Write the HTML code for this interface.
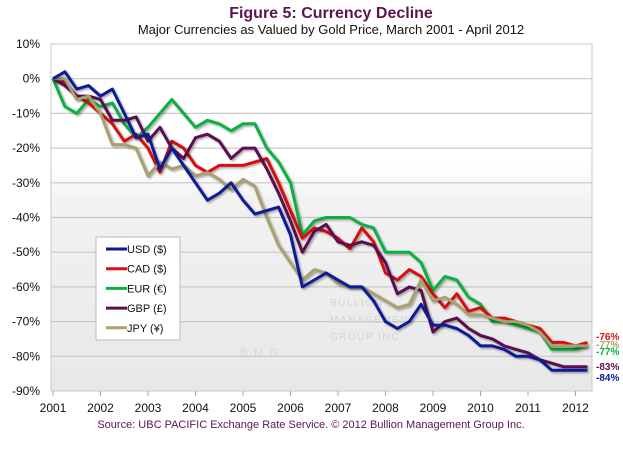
<!DOCTYPE html>
<html><head><meta charset="utf-8"><style>
body{margin:0;background:#fff;}
svg{display:block;font-family:"Liberation Sans",sans-serif;}
</style></head><body>
<svg id="c" width="623" height="468" viewBox="0 0 623 468">
<defs>
<linearGradient id="bg" x1="0" y1="0" x2="0" y2="1">
<stop offset="0" stop-color="#ffffff"/><stop offset="0.35" stop-color="#ffffff"/><stop offset="0.45" stop-color="#f2f2f2"/><stop offset="1" stop-color="#e8e8e8"/>
</linearGradient>
<filter id="sh" x="-5%" y="-5%" width="110%" height="110%"><feDropShadow dx="1.5" dy="1.5" stdDeviation="1" flood-color="#000" flood-opacity="0.35"/></filter>
</defs>
<text x="331" y="18" text-anchor="middle" font-size="16" font-weight="bold" fill="#5b1550">Figure 5:  Currency Decline</text>
<text x="331" y="34" text-anchor="middle" font-size="13" fill="#111">Major Currencies as Valued by Gold Price, March 2001 - April 2012</text>
<rect x="51" y="44" width="541" height="347" fill="url(#bg)" stroke="#c8c8c8"/>
<g id="grid"></g>
<g fill="#d4d4d4" font-size="10" letter-spacing="1.5">
<text x="330" y="306">BULLION</text><text x="330" y="323">MANAGEMENT</text><text x="330" y="340">GROUP INC.</text>
<text x="240" y="356" font-size="11" fill="#e0d8c0">B·M·G</text>
</g>
<g id="series"></g>
<g id="ends"></g>
<g>
<rect x="96" y="237" width="84" height="103" fill="#fff" stroke="#bbb"/>
<g id="legend"></g>
</g>
<text x="311" y="428" text-anchor="middle" font-size="11" fill="#5b1550">Source:  UBC PACIFIC Exchange Rate Service. © 2012 Bullion Management Group Inc.</text>
</svg>
<script>
const years = [2001,2002,2003,2004,2005,2006,2007,2008,2009,2010,2011,2012];
const yTicks = [10,0,-10,-20,-30,-40,-50,-60,-70,-80,-90];
const dates = [];
for (let i = 0; i < 46; i++) dates.push(2001 + i * 0.25);
const usd = [0,2,-3,-2, -5,-3,-10,-17, -16,-26,-20,-25, -30,-35,-33,-30, -35,-39,-38,-37, -45,-60,-58,-56, -58,-60,-60,-64, -70,-72,-70,-65, -71,-71,-72,-74, -77,-77,-78,-80, -80,-81,-84,-84, -84,-84];
const cad = [0,-1,-5,-7, -10,-13,-18,-16, -20,-27,-18,-20, -25,-27,-25,-25, -25,-24,-23,-30, -38,-46,-43,-44, -46,-49,-43,-47, -56,-58,-55,-57, -62,-66,-62,-67, -66,-69,-69,-70, -71,-72,-76,-76, -77,-76];
const eur = [0,-8,-10,-6, -8,-7,-13,-17, -14,-10,-6,-10, -14,-12,-13,-15, -13,-13,-20,-24, -30,-45,-41,-40, -40,-40,-42,-43, -50,-50,-50,-53, -61,-57,-58,-63, -65,-70,-70,-71, -72,-73,-78,-78, -78,-77];
const gbp = [0,-2,-5,-5, -6,-12,-12,-11, -18,-14,-20,-23, -17,-16,-18,-23, -20,-20,-26,-33, -41,-50,-44,-42, -47,-48,-47,-48, -53,-62,-60,-61, -73,-70,-69,-72, -74,-75,-77,-78, -79,-81,-82,-83, -83,-83];
const jpy = [0,0,-6,-5, -10,-19,-19,-20, -28,-24,-26,-25, -28,-27,-29,-32, -29,-31,-40,-48, -53,-58,-55,-56, -59,-60,-60,-62, -64,-66,-65,-58, -64,-63,-65,-68, -68,-69,-70,-70, -71,-73,-77,-77, -77,-77];
const names = ["USD ($)","CAD ($)","EUR (€)","GBP (£)","JPY (¥)"];
const endLabels = ["-84%","-76%","-77%","-83%","-77%"];
const colors = ["#0a1a96","#d81010","#10b040","#5a1050","#a8a070"];
const drawOrder = [2,1,3,4,0];
const NS = "http://www.w3.org/2000/svg";
const X = d => 53 + (d - 2001) * 47.5;
const Y = v => 78.7 - v * 3.47;
function mk(t, a, p){const e=document.createElementNS(NS,t);for(const k in a)e.setAttribute(k,a[k]);p.appendChild(e);return e;}
const grid = document.getElementById('grid');
yTicks.forEach(v=>{
  if (v > -90 && v < 10) {
    const l = mk('line',{x1:51,x2:592,y1:Y(v),y2:Y(v),stroke:'#c8c8c8','stroke-width':1.2},grid);
    
    
  }
  const t = mk('text',{x:40,y:Y(v)+4,'text-anchor':'end','font-size':12,fill:'#111'},grid);
  t.textContent = v + '%';
  
  
});
years.forEach(y=>{
  const tk = mk('line',{x1:X(y),x2:X(y),y1:391,y2:396,stroke:'#aaa'},grid);
  
  
  const t = mk('text',{x:X(y),y:412,'text-anchor':'middle','font-size':12,fill:'#111'},grid);
  t.textContent = y;
  
  
});
const all = [usd,cad,eur,gbp,jpy];
const sg = document.getElementById('series');
drawOrder.forEach(i=>{
  const pts = all[i].map((v,j)=>X(dates[j]).toFixed(1)+','+Y(v).toFixed(1)).join(' ');
  const pl = mk('polyline',{points:pts,fill:'none',stroke:colors[i],'stroke-width':3,'stroke-linejoin':'round',filter:'url(#sh)'},sg);
  
  
});
const eg = document.getElementById('ends');
const endY = [381,340,355,370,348];
all.forEach((s,i)=>{
  const t = mk('text',{x:596,y:endY[i],'font-size':10,'font-weight':'bold',fill:colors[i]},eg);
  t.textContent = endLabels[i];
  
  
});
const lg = document.getElementById('legend');
names.forEach((n,i)=>{
  const yy = 249 + i*19.7;
  const l = mk('line',{x1:106,x2:127,y1:yy,y2:yy,stroke:colors[i],'stroke-width':3},lg);
  
  
  const t = mk('text',{x:127,y:yy+4,'font-size':11,fill:'#111'},lg);
  t.textContent = n;
  
  
});
</script>
</body></html>
